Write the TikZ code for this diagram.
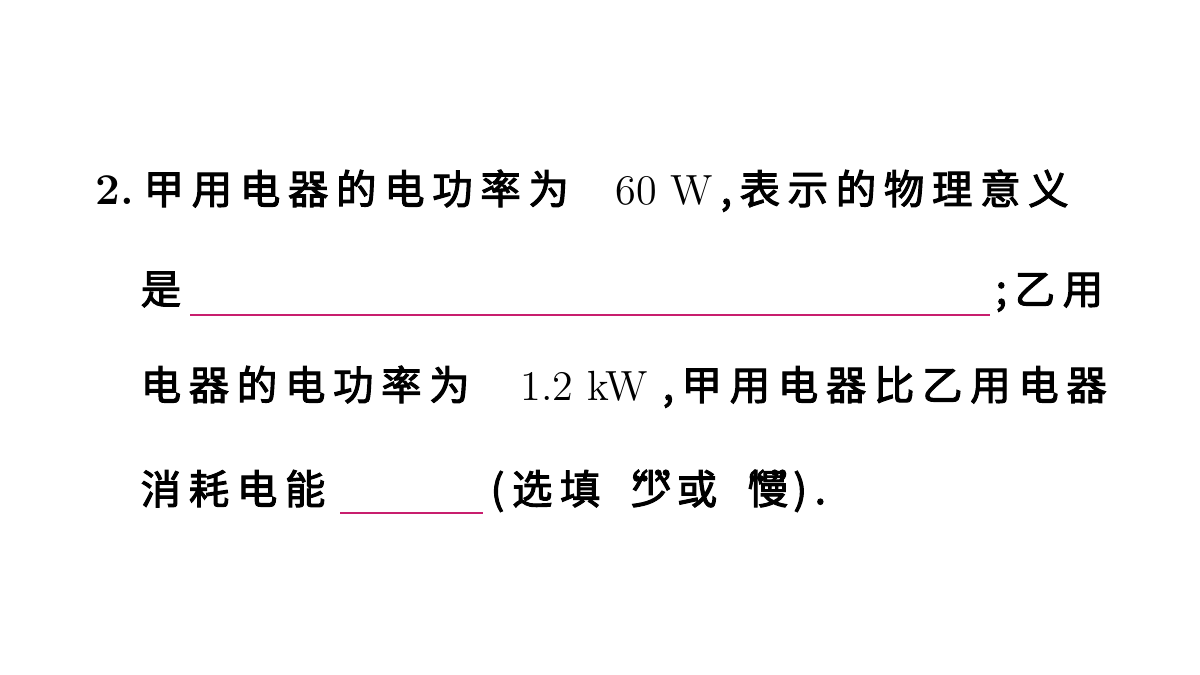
\documentclass[tikz,border=0pt]{standalone}
\usepackage{fontspec}
\newfontfamily\cjk[FakeBold=2.5,LetterSpace=19]{Noto Sans CJK SC}
\usetikzlibrary{positioning}
\definecolor{blankline}{RGB}{200,30,110}
\newcommand\qk{\kern-5pt}
\tikzset{
  txt/.style={inner sep=0pt,anchor=base west,font=\cjk\fontsize{11.5pt}{12pt}\selectfont},
  num/.style={inner sep=0pt,anchor=base west,font=\fontsize{12pt}{12pt}\selectfont},
  blank/.style={blankline,line width=0.5pt}
}
\begin{document}
\begin{tikzpicture}
\useasboundingbox (0,0) rectangle (12,-6.75);
%line 1
\node[num,font=\bfseries\fontsize{12.5pt}{12pt}\selectfont] (qno) at (0.95,-2.04) {2.};
\node[txt] (l1a) at (1.43,-2.04) {甲用电器的电功率为};
\node[num] (l1b) at (6.15,-2.04) {60\ W};
\node[txt] (l1c) at (7.20,-2.04) {,表示的物理意义};
%line 2
\node[txt] (l2a) at (1.40,-3.04) {是};
\coordinate (b1s) at (1.90,-3.15);
\coordinate (b1e) at (9.90,-3.15);
\draw[blank] (b1s) -- (b1e);
\node[txt] (l2b) at (9.95,-3.04) {;乙用};
%line 3
\node[txt] (l3a) at (1.40,-4.00) {电器的电功率为};
\node[num] (l3b) at (5.20,-4.00) {1.2\ kW};
\node[txt] (l3c) at (6.62,-4.00) {,甲用电器比乙用电器};
%line 4
\node[txt] (l4a) at (1.40,-5.04) {消耗电能};
\coordinate (b2s) at (3.40,-5.13);
\coordinate (b2e) at (4.83,-5.13);
\draw[blank] (b2s) -- (b2e);
\node[txt] (l4b) at (4.90,-5.04) {(选填“\qk 少\qk ”\qk 或“\qk 慢\qk ”\qk ).};
\end{tikzpicture}
\end{document}
